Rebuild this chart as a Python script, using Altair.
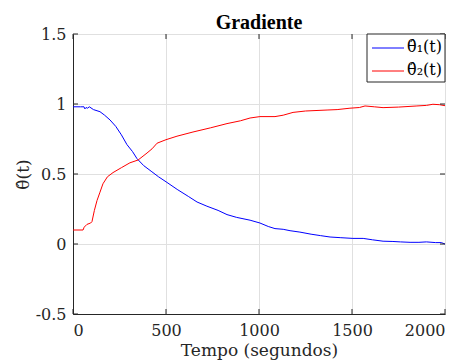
import altair as alt
import pandas as pd

t1 = [0, 40, 59, 64, 70, 78, 88, 110, 145, 170, 199, 230, 260, 290, 320, 344, 380, 420,
      460, 505, 560, 620, 667, 720, 780, 828, 880, 952, 1005, 1050, 1086, 1130, 1167,
      1220, 1280, 1330, 1382, 1440, 1505, 1560, 1610, 1667, 1720, 1760, 1812, 1860,
      1900, 1950, 1980, 2000]
v1 = [0.98, 0.98, 0.98, 0.965, 0.975, 0.97, 0.98, 0.96, 0.945, 0.92, 0.886, 0.84, 0.78,
      0.71, 0.66, 0.61, 0.56, 0.52, 0.48, 0.44, 0.39, 0.34, 0.30, 0.27, 0.24, 0.21, 0.19,
      0.17, 0.15, 0.125, 0.11, 0.105, 0.095, 0.085, 0.07, 0.06, 0.05, 0.045, 0.04, 0.04,
      0.03, 0.02, 0.018, 0.015, 0.012, 0.012, 0.015, 0.01, 0.01, 0.0]

t2 = [0, 54, 60, 75, 95, 102, 115, 129, 145, 161, 185, 215, 260, 306, 350, 398, 425, 452,
      500, 559, 645, 740, 828, 900, 952, 1005, 1086, 1130, 1183, 1250, 1366, 1420, 1489,
      1540, 1570, 1620, 1667, 1750, 1849, 1900, 1935, 1970, 2000]
v2 = [0.1, 0.1, 0.12, 0.14, 0.15, 0.16, 0.24, 0.31, 0.37, 0.43, 0.48, 0.51, 0.545, 0.58,
      0.6, 0.65, 0.68, 0.72, 0.745, 0.77, 0.80, 0.83, 0.86, 0.88, 0.90, 0.91, 0.91, 0.92,
      0.94, 0.95, 0.957, 0.96, 0.97, 0.975, 0.986, 0.98, 0.974, 0.978, 0.986, 0.99, 0.998,
      0.995, 0.988]

names = ["θ̂₁(t)", "θ̂₂(t)"]
colors = ["#0000ff", "#ff0000"]
x_ticks = [0, 500, 1000, 1500, 2000]
y_ticks = [-0.5, 0, 0.5, 1, 1.5]

df = pd.concat([
    pd.DataFrame({"t": t1, "v": v1, "s": names[0]}),
    pd.DataFrame({"t": t2, "v": v2, "s": names[1]}),
])
df_leg = pd.DataFrame({"s": names})
df_xt = pd.DataFrame({"t": x_ticks})
df_yt = pd.DataFrame({"v": y_ticks})
df_box = pd.DataFrame({"a": [0]})

FONT = "DejaVu Serif"
TFONT = "serif"
AX = "#262626"
W, H = 372, 280

xs = alt.Scale(domain=[0, 2000], nice=False)
ys = alt.Scale(domain=[-0.5, 1.5], nice=False)
cs = alt.Scale(domain=names, range=colors)

lines = alt.Chart(df).mark_line(strokeWidth=1).encode(
    x=alt.X("t:Q", scale=xs,
            axis=alt.Axis(values=x_ticks, format="d", title="Tempo (segundos)",
                          labelFont=FONT, titleFont=FONT,
                          labelFontSize=16, titleFontSize=17,
                          labelPadding=8, titlePadding=4)),
    y=alt.Y("v:Q", scale=ys,
            axis=alt.Axis(values=y_ticks, title="θ̂(t)",
                          labelFont=FONT, titleFont=FONT,
                          labelFontSize=16, titleFontSize=17,
                          labelExpr="replace(format(datum.value, '.1~f'), '−', '-')",
                          labelPadding=7, titlePadding=3)),
    color=alt.Color("s:N", scale=cs, legend=None),
    detail="s:N",
)

tick_len = 5
left_ticks = alt.Chart(df_yt).mark_rule(color=AX, strokeWidth=1).encode(
    y=alt.Y("v:Q", scale=ys, axis=None), x=alt.value(0), x2=alt.value(tick_len))
right_ticks = alt.Chart(df_yt).mark_rule(color=AX, strokeWidth=1).encode(
    y=alt.Y("v:Q", scale=ys, axis=None), x=alt.value(W - tick_len), x2=alt.value(W))
bottom_ticks = alt.Chart(df_xt).mark_rule(color=AX, strokeWidth=1).encode(
    x=alt.X("t:Q", scale=xs, axis=None), y=alt.value(H - tick_len), y2=alt.value(H))
top_ticks = alt.Chart(df_xt).mark_rule(color=AX, strokeWidth=1).encode(
    x=alt.X("t:Q", scale=xs, axis=None), y=alt.value(0), y2=alt.value(tick_len))

box = alt.Chart(df_box).mark_rect(fill="white", stroke=AX, strokeWidth=1).encode(
    x=alt.value(294), x2=alt.value(W), y=alt.value(0), y2=alt.value(48))

ly = alt.Scale(type="point", domain=names, range=[14, 37], padding=0)
leg_lines = alt.Chart(df_leg).mark_rule(strokeWidth=1).encode(
    y=alt.Y("s:N", scale=ly, axis=None),
    x=alt.value(299), x2=alt.value(331),
    color=alt.Color("s:N", scale=cs, legend=None))
leg_text = alt.Chart(df_leg).mark_text(
    align="left", baseline="middle", font=FONT, fontSize=16, color="black", dy=-1
).encode(
    y=alt.Y("s:N", scale=ly, axis=None),
    x=alt.value(334),
    text="s:N")

chart = alt.layer(
    lines, left_ticks, right_ticks, bottom_ticks, top_ticks, box, leg_lines, leg_text
).resolve_scale(
    x="independent", y="independent"
).properties(
    width=W, height=H,
    title=alt.TitleParams("Gradiente", font=TFONT, fontSize=20, fontWeight="bold",
                          color="black", offset=-7),
    autosize=alt.AutoSizeParams(type="none"),
    padding={"left": 65, "top": 26, "right": 10, "bottom": 49},
).configure_view(
    stroke=AX, strokeWidth=1
).configure_axis(
    labelColor=AX, titleFontWeight="normal", titleColor=AX,
    domainColor=AX, tickColor=AX, tickSize=0,
    gridColor="#e0e0e0", gridWidth=1,
)

chart.save("out.html", embed_options={"renderer": "svg", "actions": False})
